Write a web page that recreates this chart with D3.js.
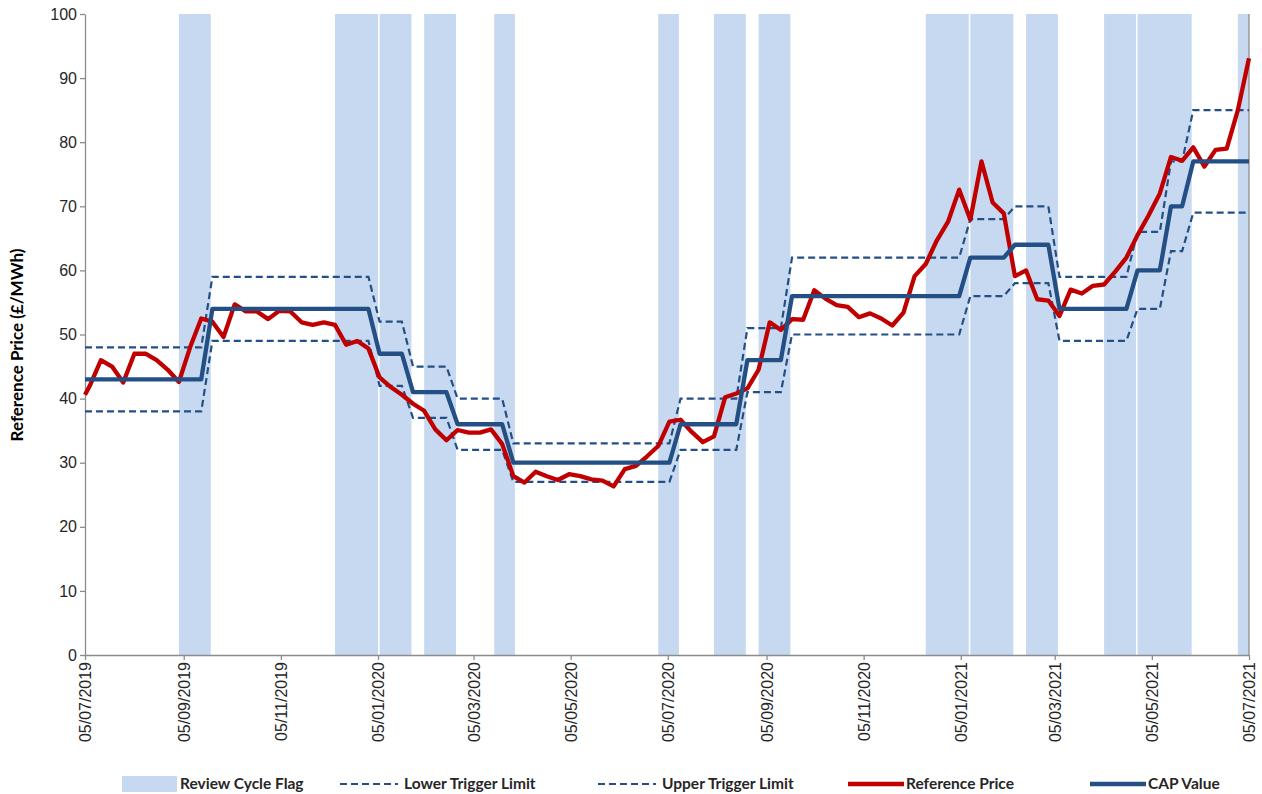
<!DOCTYPE html>
<html>
<head>
<meta charset="utf-8">
<script src="https://cdn.jsdelivr.net/npm/d3@7"></script>
<style>
  body { margin: 0; background: #fff; }
  svg { font-family: Lato, "Open Sans", sans-serif; }
</style>
</head>
<body>
<svg id="chart" width="1262" height="794"></svg>
<script>
// weekly reference: first point 05/07/2019, then Mondays up to 05/07/2021
var dates = [new Date(2019, 6, 5)].concat(d3.timeMonday.range(new Date(2019, 6, 8), new Date(2021, 6, 6)));

var refPrice = [40.6,
  42, 46, 45, 42.5, 47, 47, 46, 44.5, 42.6, 48,
  52.5, 52, 49.6, 54.7, 53.6, 53.6, 52.4, 53.7, 53.6, 51.9,
  51.5, 51.9, 51.5, 48.4, 49, 47.8, 43.3, 41.8, 40.6, 39.2,
  38.1, 35.2, 33.5, 35.1, 34.7, 34.7, 35.2, 32.9, 27.9, 26.9,
  28.6, 27.9, 27.3, 28.2, 27.9, 27.4, 27.2, 26.3, 29.0, 29.5,
  31.0, 32.6, 36.4, 36.7, 34.8, 33.2, 34.1, 40.2, 40.8, 41.6,
  44.5, 51.9, 50.7, 52.4, 52.3, 56.9, 55.6, 54.6, 54.3, 52.7,
  53.3, 52.5, 51.4, 53.4, 59.1, 61.0, 64.7, 67.6, 72.6, 67.9,
  77.0, 70.6, 68.9, 59.1, 60.0, 55.5, 55.3, 52.9, 57.0, 56.4,
  57.6, 57.8, 59.8, 62.0, 65.5, 68.6, 72.0, 77.7, 77.1, 79.2,
  76.2, 78.8, 79.0, 85.0, 93.1];

var capValue = [
  43, 43, 43, 43, 43, 43, 43, 43, 43, 43, 43, 43,
  54, 54, 54, 54, 54, 54, 54, 54, 54, 54, 54, 54, 54, 54, 54,
  47, 47, 47,
  41, 41, 41, 41,
  36, 36, 36, 36, 36,
  30, 30, 30, 30, 30, 30, 30, 30, 30, 30, 30, 30, 30, 30, 30,
  36, 36, 36, 36, 36, 36,
  46, 46, 46, 46,
  56, 56, 56, 56, 56, 56, 56, 56, 56, 56, 56, 56, 56, 56, 56, 56,
  62, 62, 62, 62,
  64, 64, 64, 64,
  54, 54, 54, 54, 54, 54, 54,
  60, 60, 60,
  70, 70,
  77, 77, 77, 77, 77, 77];

var lowerLimit = [
  38, 38, 38, 38, 38, 38, 38, 38, 38, 38, 38, 38,
  49, 49, 49, 49, 49, 49, 49, 49, 49, 49, 49, 49, 49, 49, 49,
  42, 42, 42,
  37, 37, 37, 37,
  32, 32, 32, 32, 32,
  27, 27, 27, 27, 27, 27, 27, 27, 27, 27, 27, 27, 27, 27, 27,
  32, 32, 32, 32, 32, 32,
  41, 41, 41, 41,
  50, 50, 50, 50, 50, 50, 50, 50, 50, 50, 50, 50, 50, 50, 50, 50,
  56, 56, 56, 56,
  58, 58, 58, 58,
  49, 49, 49, 49, 49, 49, 49,
  54, 54, 54,
  63, 63,
  69, 69, 69, 69, 69, 69];

var upperLimit = [
  48, 48, 48, 48, 48, 48, 48, 48, 48, 48, 48, 48,
  59, 59, 59, 59, 59, 59, 59, 59, 59, 59, 59, 59, 59, 59, 59,
  52, 52, 52,
  45, 45, 45, 45,
  40, 40, 40, 40, 40,
  33, 33, 33, 33, 33, 33, 33, 33, 33, 33, 33, 33, 33, 33, 33,
  40, 40, 40, 40, 40, 40,
  51, 51, 51, 51,
  62, 62, 62, 62, 62, 62, 62, 62, 62, 62, 62, 62, 62, 62, 62, 62,
  68, 68, 68, 68,
  70, 70, 70, 70,
  59, 59, 59, 59, 59, 59, 59,
  66, 66, 66,
  77, 77,
  85, 85, 85, 85, 85, 85];

// review cycle flag periods
var reviewStart = ["2019-09-02", "2019-12-09", "2020-01-06", "2020-02-03", "2020-03-18", "2020-06-29", "2020-08-03",
  "2020-08-31", "2020-12-14", "2021-01-11", "2021-02-15", "2021-04-05", "2021-04-26", "2021-06-28"];
var reviewEnd = ["2019-09-22", "2020-01-05", "2020-01-26", "2020-02-23", "2020-03-31", "2020-07-12", "2020-08-23",
  "2020-09-20", "2021-01-10", "2021-02-07", "2021-03-07", "2021-04-25", "2021-05-30", "2021-07-05"];

var tickLabels = ["05/07/2019", "05/09/2019", "05/11/2019", "05/01/2020", "05/03/2020", "05/05/2020", "05/07/2020",
  "05/09/2020", "05/11/2020", "05/01/2021", "05/03/2021", "05/05/2021", "05/07/2021"];
var yTicks = [0, 10, 20, 30, 40, 50, 60, 70, 80, 90, 100];

var blue = "#244f85", red = "#c00000", flagFill = "#c6d9f0", axisGrey = "#8c8c8c";

var margin = {top: 14, left: 85, right: 13, bottom: 139};
var svg = d3.select("#chart");
var W = 1262 - margin.left - margin.right, H = 794 - margin.top - margin.bottom;
var g = svg.append("g").attr("transform", "translate(" + margin.left + "," + margin.top + ")");

var parseTick = d3.timeParse("%d/%m/%Y");
var parseIso = d3.timeParse("%Y-%m-%d");
var x = d3.scaleTime()
  .domain([parseTick(tickLabels[0]), parseTick(tickLabels[tickLabels.length - 1])])
  .range([0, W]);
var y = d3.scaleLinear().domain([0, 100]).range([H, 0]);

// flag bands
g.selectAll("rect.flag")
  .data(reviewStart)
  .enter().append("rect")
  .attr("class", "flag")
  .attr("x", function(d) { return x(parseIso(d)); })
  .attr("width", function(d, i) { return x(parseIso(reviewEnd[i])) - x(parseIso(d)); })
  .attr("y", 0)
  .attr("height", H)
  .style("fill", flagFill);

// axes
var yAxis = g.append("g")
  .call(d3.axisLeft(y).tickValues(yTicks).tickSize(5).tickSizeOuter(0));
yAxis.select(".domain").style("stroke", axisGrey).style("stroke-width", 1.3);
yAxis.selectAll(".tick line").style("stroke", axisGrey).style("stroke-width", 1.3);
yAxis.selectAll("text").style("font-size", "16px").style("fill", "#262626").attr("x", -8);

var xAxis = g.append("g")
  .attr("transform", "translate(0," + H + ")")
  .call(d3.axisBottom(x).tickValues(tickLabels.map(parseTick)).tickSize(5).tickSizeOuter(0)
    .tickFormat(d3.timeFormat("%d/%m/%Y")));
xAxis.select(".domain").style("stroke", axisGrey).style("stroke-width", 1.3);
xAxis.selectAll(".tick line").style("stroke", axisGrey).style("stroke-width", 1.3);
xAxis.selectAll("text")
  .style("font-size", "16px").style("fill", "#262626")
  .attr("text-anchor", "end")
  .attr("transform", "rotate(-90)")
  .attr("x", -7).attr("y", 0).attr("dy", "0.35em");

// right border line
g.append("line").attr("x1", W).attr("x2", W).attr("y1", 0).attr("y2", H)
  .style("stroke", axisGrey).style("stroke-width", 1.3);

svg.append("text")
  .attr("transform", "translate(23,345) rotate(-90)")
  .attr("text-anchor", "middle")
  .style("font-size", "17px").style("font-weight", "bold").style("fill", "#000")
  .text("Reference Price (£/MWh)");

function lineOf(arr) {
  return d3.line()
    .x(function(d, i) { return x(dates[i]); })
    .y(function(d) { return y(d); })(arr);
}

g.append("path").attr("d", lineOf(lowerLimit))
  .style("fill", "none").style("stroke", blue).style("stroke-width", 2.2).style("stroke-dasharray", "7,4");
g.append("path").attr("d", lineOf(upperLimit))
  .style("fill", "none").style("stroke", blue).style("stroke-width", 2.2).style("stroke-dasharray", "7,4");
g.append("path").attr("d", lineOf(refPrice))
  .style("fill", "none").style("stroke", red).style("stroke-width", 4.3).style("stroke-linejoin", "round");
g.append("path").attr("d", lineOf(capValue))
  .style("fill", "none").style("stroke", blue).style("stroke-width", 4.3).style("stroke-linejoin", "round");

// legend
var legendItems = [
  {label: "Review Cycle Flag", type: "rect", x: 122},
  {label: "Lower Trigger Limit", type: "dash", x: 340},
  {label: "Upper Trigger Limit", type: "dash", x: 598},
  {label: "Reference Price", type: "red", x: 848},
  {label: "CAP Value", type: "cap", x: 1090}
];
var ly = 784;
var leg = svg.append("g");
legendItems.forEach(function(it) {
  var textX = it.x + 58;
  if (it.type === "rect") {
    leg.append("rect").attr("x", it.x).attr("y", ly - 8).attr("width", 55).attr("height", 16).style("fill", flagFill);
  } else if (it.type === "dash") {
    leg.append("line").attr("x1", it.x).attr("x2", it.x + 58).attr("y1", ly).attr("y2", ly)
      .style("stroke", blue).style("stroke-width", 2.2).style("stroke-dasharray", "7,4");
    textX = it.x + 64;
  } else {
    leg.append("line").attr("x1", it.x).attr("x2", it.x + 56).attr("y1", ly).attr("y2", ly)
      .style("stroke", it.type === "red" ? red : blue).style("stroke-width", 4.3);
  }
  leg.append("text").attr("x", textX).attr("y", ly).attr("dy", "0.35em")
    .style("font-size", "15.5px").style("font-weight", "bold").style("fill", "#262626")
    .text(it.label);
});
</script>
</body>
</html>
